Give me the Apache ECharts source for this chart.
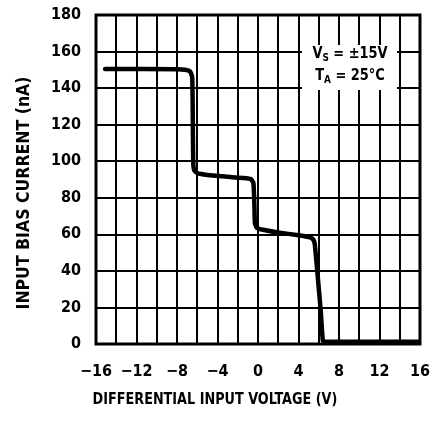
<!DOCTYPE html>
<html>
<head>
<meta charset="utf-8">
<script src="https://cdn.jsdelivr.net/npm/echarts@6/dist/echarts.min.js"></script>
<style>
html,body{margin:0;padding:0;background:#fff;}
#c{width:433px;height:421px;}
</style>
</head>
<body>
<div id="c"></div>
<script>
// Data
var voltage = [-15.1, -8, -7.2, -6.7, -6.5, -6.45, -6.4, -6.3, -6.0, -5, -3, -1.5, -0.7, -0.45, -0.35, -0.3, -0.1, 0.5, 2, 4, 5, 5.4, 5.6, 5.85, 6.2, 6.4, 6.6, 8, 12, 15.9];
var biasCurrent = [150.5, 150.3, 150, 149, 146, 130, 100, 95, 93.5, 92.5, 91.5, 90.8, 90.2, 88, 75, 66, 63.5, 62.5, 61, 59.5, 58.5, 57.5, 55, 40, 18, 2, 1.2, 1.2, 1.2, 1.2];
var xTickLabels = [-16, -12, -8, -4, 0, 4, 8, 12, 16];
var yTickLabels = [0, 20, 40, 60, 80, 100, 120, 140, 160, 180];
var xTitle = 'DIFFERENTIAL INPUT VOLTAGE (V)';
var yTitle = 'INPUT BIAS CURRENT (nA)';

var FONT = '"DejaVu Sans Condensed", "DejaVu Sans", sans-serif';
var pts = voltage.map(function (v, i) { return [v, biasCurrent[i]]; });

var chart = echarts.init(document.getElementById('c'), null, {renderer: 'canvas'});
chart.setOption({
  animation: false,
  backgroundColor: '#fff',
  grid: {left: 96, right: 9, top: 15, bottom: 77, show: true, borderColor: '#000', borderWidth: 3, backgroundColor: 'transparent'},
  xAxis: {
    type: 'value', min: -16, max: 16, interval: 2,
    axisLine: {show: false}, axisTick: {show: false},
    splitLine: {show: true, lineStyle: {color: '#000', width: 2}},
    axisLabel: {
      margin: 20, color: '#000', fontFamily: FONT, fontWeight: 'bold', fontSize: 16,
      formatter: function (v) {
        if (xTickLabels.indexOf(v) < 0) return '';
        return v < 0 ? '\u2212' + Math.abs(v) : String(v);
      }
    }
  },
  yAxis: {
    type: 'value', min: 0, max: 180, interval: 20,
    axisLine: {show: false}, axisTick: {show: false},
    splitLine: {show: true, lineStyle: {color: '#000', width: 2}},
    axisLabel: {
      margin: 15, color: '#000', fontFamily: FONT, fontWeight: 'bold', fontSize: 16,
      formatter: function (v) { return yTickLabels.indexOf(v) < 0 ? '' : String(v); }
    }
  },
  series: [{
    type: 'line', data: pts, showSymbol: false, smooth: 0.15,
    lineStyle: {color: '#000', width: 4.5, join: 'round', cap: 'round'},
    z: 5
  }],
  graphic: [
    {type: 'rect', left: 302, top: 45, shape: {width: 95, height: 45}, style: {fill: '#fff'}, z: 10},
    {type: 'text', x: 350, y: 65, scaleX: 0.9, z: 11,
      style: {
        text: '{a|V}{s|S}{a| = \u00b115V}\n{a|T}{s|A}{a| = 25\u00b0C}',
        align: 'center', verticalAlign: 'middle',
        rich: {
          a: {fontFamily: FONT, fontWeight: 'bold', fontSize: 16, fill: '#000', lineHeight: 22},
          s: {fontFamily: FONT, fontWeight: 'bold', fontSize: 11, fill: '#000', lineHeight: 22, padding: [8, 0, 0, 0]}
        }
      }
    },
    {type: 'text', x: 215, y: 400, scaleX: 0.89, z: 11,
      style: {text: xTitle, fontFamily: FONT, fontWeight: 'bold', fontSize: 16, fill: '#000', align: 'center', verticalAlign: 'middle'}
    },
    {type: 'text', x: 24, y: 193, rotation: Math.PI / 2, z: 11,
      style: {text: yTitle, fontFamily: FONT, fontWeight: 'bold', fontSize: 17.5, fill: '#000', align: 'center', verticalAlign: 'middle'}
    }
  ]
});
</script>
</body>
</html>
